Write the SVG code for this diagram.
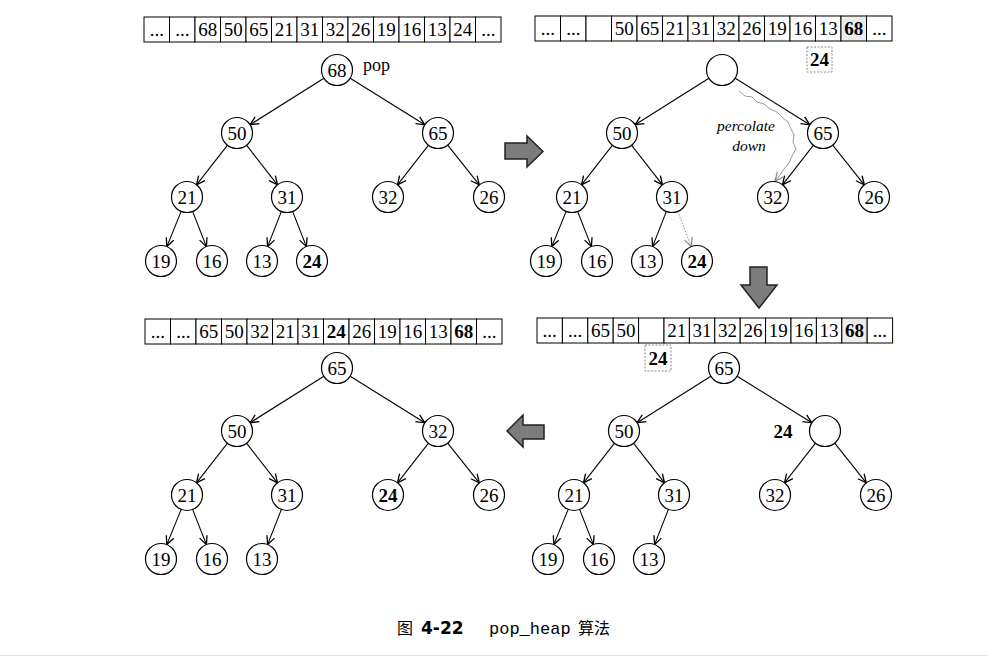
<svg xmlns="http://www.w3.org/2000/svg" width="988" height="662" viewBox="0 0 988 662">
<style>
.n{fill:#fff;stroke:#000;stroke-width:1.2}
.t{font-family:"Liberation Serif","Times New Roman",serif;font-size:19px;text-anchor:middle;fill:#000}
.b{font-weight:bold}
.c{fill:#fff;stroke:#000;stroke-width:1}
.g{fill:#ececec;stroke:#000;stroke-width:1}
.e{fill:none;stroke:#000;stroke-width:1.1;marker-end:url(#ah)}
.d{fill:none;stroke:#888;stroke-width:1;stroke-dasharray:1.5 1.5;marker-end:url(#ahg)}
.pc{fill:none;stroke:#999;stroke-width:1;marker-end:url(#ahg)}
.blk{fill:#7c7c7c;stroke:#222;stroke-width:1.5;stroke-linejoin:miter}
.db{fill:#fff;stroke:#888;stroke-width:1;stroke-dasharray:2 1.5}
.lbl{font-family:"Liberation Serif","Times New Roman",serif;font-size:18px;fill:#000}
.it{font-family:"Liberation Serif","Times New Roman",serif;font-size:15.5px;font-style:italic;text-anchor:middle;fill:#000}
</style>
<defs>
<marker id="ah" viewBox="0 0 10 10" refX="9.5" refY="5" markerWidth="10" markerHeight="10" markerUnits="userSpaceOnUse" orient="auto">
<path d="M1,1 L9.5,5 L1,9" fill="none" stroke="#000" stroke-width="1.3"/>
</marker>
<marker id="ahg" viewBox="0 0 10 10" refX="9.5" refY="5" markerWidth="10" markerHeight="10" markerUnits="userSpaceOnUse" orient="auto">
<path d="M1,1 L9.5,5 L1,9" fill="none" stroke="#888" stroke-width="1.3"/>
</marker>
</defs>
<rect width="988" height="662" fill="#fff"/>
<line x1="0" y1="655.5" x2="988" y2="655.5" stroke="#e2e2e2" stroke-width="1"/>

<!-- arrays -->
<g id="array-tl">
<rect class="c" x="144" y="17" width="25.5" height="25"/><rect class="c" x="169.5" y="17" width="25.5" height="25"/><rect class="c" x="195" y="17" width="25.5" height="25"/><rect class="c" x="220.5" y="17" width="25.5" height="25"/><rect class="c" x="246" y="17" width="25.5" height="25"/><rect class="c" x="271.5" y="17" width="25.5" height="25"/><rect class="c" x="297" y="17" width="25.5" height="25"/><rect class="c" x="322.5" y="17" width="25.5" height="25"/><rect class="c" x="348" y="17" width="25.5" height="25"/><rect class="c" x="373.5" y="17" width="25.5" height="25"/><rect class="c" x="399" y="17" width="25.5" height="25"/><rect class="c" x="424.5" y="17" width="25.5" height="25"/><rect class="c" x="450" y="17" width="25.5" height="25"/><rect class="c" x="475.5" y="17" width="25.5" height="25"/>
<text class="t" y="36"><tspan x="156.8">...</tspan><tspan x="182.3">...</tspan><tspan x="207.8">68</tspan><tspan x="233.3">50</tspan><tspan x="258.8">65</tspan><tspan x="284.3">21</tspan><tspan x="309.8">31</tspan><tspan x="335.3">32</tspan><tspan x="360.8">26</tspan><tspan x="386.3">19</tspan><tspan x="411.8">16</tspan><tspan x="437.3">13</tspan><tspan x="462.8">24</tspan><tspan x="488.3">...</tspan></text>
</g>
<g id="array-tr">
<rect class="c" x="535" y="16" width="25.5" height="25"/><rect class="c" x="560.5" y="16" width="25.5" height="25"/><rect class="c" x="586" y="16" width="25.5" height="25"/><rect class="c" x="611.5" y="16" width="25.5" height="25"/><rect class="c" x="637" y="16" width="25.5" height="25"/><rect class="c" x="662.5" y="16" width="25.5" height="25"/><rect class="c" x="688" y="16" width="25.5" height="25"/><rect class="c" x="713.5" y="16" width="25.5" height="25"/><rect class="c" x="739" y="16" width="25.5" height="25"/><rect class="c" x="764.5" y="16" width="25.5" height="25"/><rect class="c" x="790" y="16" width="25.5" height="25"/><rect class="c" x="815.5" y="16" width="25.5" height="25"/><rect class="g" x="841" y="16" width="25.5" height="25"/><rect class="c" x="866.5" y="16" width="25.5" height="25"/>
<text class="t" y="35"><tspan x="547.8">...</tspan><tspan x="573.3">...</tspan><tspan x="624.3">50</tspan><tspan x="649.8">65</tspan><tspan x="675.3">21</tspan><tspan x="700.8">31</tspan><tspan x="726.3">32</tspan><tspan x="751.8">26</tspan><tspan x="777.3">19</tspan><tspan x="802.8">16</tspan><tspan x="828.3">13</tspan><tspan x="853.8" font-weight="bold">68</tspan><tspan x="879.3">...</tspan></text>
</g>
<g id="tmp-tr">
<rect class="db" x="807" y="47" width="25" height="25"/>
<text class="t b" x="819.5" y="66">24</text>
</g>
<g id="array-bl">
<rect class="c" x="145" y="319" width="25.5" height="25"/><rect class="c" x="170.5" y="319" width="25.5" height="25"/><rect class="c" x="196" y="319" width="25.5" height="25"/><rect class="c" x="221.5" y="319" width="25.5" height="25"/><rect class="c" x="247" y="319" width="25.5" height="25"/><rect class="c" x="272.5" y="319" width="25.5" height="25"/><rect class="c" x="298" y="319" width="25.5" height="25"/><rect class="c" x="323.5" y="319" width="25.5" height="25"/><rect class="c" x="349" y="319" width="25.5" height="25"/><rect class="c" x="374.5" y="319" width="25.5" height="25"/><rect class="c" x="400" y="319" width="25.5" height="25"/><rect class="c" x="425.5" y="319" width="25.5" height="25"/><rect class="c" x="451" y="319" width="25.5" height="25"/><rect class="c" x="476.5" y="319" width="25.5" height="25"/>
<text class="t" y="338"><tspan x="157.8">...</tspan><tspan x="183.3">...</tspan><tspan x="208.8">65</tspan><tspan x="234.3">50</tspan><tspan x="259.8">32</tspan><tspan x="285.3">21</tspan><tspan x="310.8">31</tspan><tspan x="336.3" font-weight="bold">24</tspan><tspan x="361.8">26</tspan><tspan x="387.3">19</tspan><tspan x="412.8">16</tspan><tspan x="438.3">13</tspan><tspan x="463.8" font-weight="bold">68</tspan><tspan x="489.3">...</tspan></text>
</g>
<g id="array-br">
<rect class="c" x="537" y="318" width="25.4" height="25"/><rect class="c" x="562.4" y="318" width="25.4" height="25"/><rect class="c" x="587.8" y="318" width="25.4" height="25"/><rect class="c" x="613.2" y="318" width="25.4" height="25"/><rect class="c" x="638.6" y="318" width="25.4" height="25"/><rect class="c" x="664" y="318" width="25.4" height="25"/><rect class="c" x="689.4" y="318" width="25.4" height="25"/><rect class="c" x="714.8" y="318" width="25.4" height="25"/><rect class="c" x="740.2" y="318" width="25.4" height="25"/><rect class="c" x="765.6" y="318" width="25.4" height="25"/><rect class="c" x="791" y="318" width="25.4" height="25"/><rect class="c" x="816.4" y="318" width="25.4" height="25"/><rect class="g" x="841.8" y="318" width="25.4" height="25"/><rect class="c" x="867.2" y="318" width="25.4" height="25"/>
<text class="t" y="337"><tspan x="549.7">...</tspan><tspan x="575.1">...</tspan><tspan x="600.5">65</tspan><tspan x="625.9">50</tspan><tspan x="676.7">21</tspan><tspan x="702.1">31</tspan><tspan x="727.5">32</tspan><tspan x="752.9">26</tspan><tspan x="778.3">19</tspan><tspan x="803.7">16</tspan><tspan x="829.1">13</tspan><tspan x="854.5" font-weight="bold">68</tspan><tspan x="879.9">...</tspan></text>
</g>
<g id="tmp-br">
<rect class="db" x="645" y="345" width="26" height="26"/>
<text class="t b" x="658" y="364.5">24</text>
</g>

<!-- connectors -->
<g id="connectors">
<g id="edges-tl">
<path class="e" d="M323.9,78.3 L250.1,124.7"/><path class="e" d="M350.2,78.2 L424.8,124.8"/>
<path class="e" d="M227.5,145.2 L196.5,184.8"/><path class="e" d="M246.5,145.2 L277.5,184.8"/>
<path class="e" d="M428.5,145.2 L397.5,184.8"/><path class="e" d="M447.7,145.1 L479.3,184.9"/>
<path class="e" d="M181.2,211.4 L166.8,246.6"/><path class="e" d="M192.6,211.4 L206.4,246.6"/>
<path class="e" d="M281.4,211.4 L267.6,246.6"/><path class="e" d="M292.6,211.4 L306.4,246.6"/>
</g>
<g id="edges-tr" transform="translate(385,0)">
<path class="e" d="M323.9,78.3 L250.1,124.7"/><path class="e" d="M350.2,78.2 L424.8,124.8"/>
<path class="e" d="M227.5,145.2 L196.5,184.8"/><path class="e" d="M246.5,145.2 L277.5,184.8"/>
<path class="e" d="M428.5,145.2 L397.5,184.8"/><path class="e" d="M447.7,145.1 L479.3,184.9"/>
<path class="e" d="M181.2,211.4 L166.8,246.6"/><path class="e" d="M192.6,211.4 L206.4,246.6"/>
<path class="e" d="M281.4,211.4 L267.6,246.6"/><path class="d" d="M292.6,211.4 L306.4,246.6"/>
</g>
<path id="percolate-path" class="pc" d="M739,91 L745,96 L752,97 L757,102 L764,104 L770,109 L777,112 L783,118 L788,122 L791,129 L794,135 L793,142 L796,149 L792,156 L789,163 L784,169 L780,175 L775,181"/>
<g id="edges-bl" transform="translate(0,298)">
<path class="e" d="M323.9,78.3 L250.1,124.7"/><path class="e" d="M350.2,78.2 L424.8,124.8"/>
<path class="e" d="M227.5,145.2 L196.5,184.8"/><path class="e" d="M246.5,145.2 L277.5,184.8"/>
<path class="e" d="M428.5,145.2 L397.5,184.8"/><path class="e" d="M447.7,145.1 L479.3,184.9"/>
<path class="e" d="M181.2,211.4 L166.8,246.6"/><path class="e" d="M192.6,211.4 L206.4,246.6"/>
<path class="e" d="M281.4,211.4 L267.6,246.6"/>
</g>
<g id="edges-br" transform="translate(387,298)">
<path class="e" d="M323.9,78.3 L250.1,124.7"/><path class="e" d="M350.2,78.2 L424.8,124.8"/>
<path class="e" d="M227.5,145.2 L196.5,184.8"/><path class="e" d="M246.5,145.2 L277.5,184.8"/>
<path class="e" d="M428.5,145.2 L397.5,184.8"/><path class="e" d="M447.7,145.1 L479.3,184.9"/>
<path class="e" d="M181.2,211.4 L166.8,246.6"/><path class="e" d="M192.6,211.4 L206.4,246.6"/>
<path class="e" d="M281.4,211.4 L267.6,246.6"/>
</g>
</g>

<!-- nodes top-left -->
<g id="tl-68"><circle class="n" cx="337" cy="70" r="15.5"/><text class="t" x="337" y="76.5">68</text></g>
<g id="tl-50"><circle class="n" cx="237" cy="133" r="15.5"/><text class="t" x="237" y="139.5">50</text></g>
<g id="tl-65"><circle class="n" cx="438" cy="133" r="15.5"/><text class="t" x="438" y="139.5">65</text></g>
<g id="tl-21"><circle class="n" cx="187" cy="197" r="15.5"/><text class="t" x="187" y="203.5">21</text></g>
<g id="tl-31"><circle class="n" cx="287" cy="197" r="15.5"/><text class="t" x="287" y="203.5">31</text></g>
<g id="tl-32"><circle class="n" cx="388" cy="197" r="15.5"/><text class="t" x="388" y="203.5">32</text></g>
<g id="tl-26"><circle class="n" cx="489" cy="197" r="15.5"/><text class="t" x="489" y="203.5">26</text></g>
<g id="tl-19"><circle class="n" cx="161" cy="261" r="15.5"/><text class="t" x="161" y="267.5">19</text></g>
<g id="tl-16"><circle class="n" cx="212" cy="261" r="15.5"/><text class="t" x="212" y="267.5">16</text></g>
<g id="tl-13"><circle class="n" cx="262" cy="261" r="15.5"/><text class="t" x="262" y="267.5">13</text></g>
<g id="tl-24"><circle class="n" cx="312" cy="261" r="15.5"/><text class="t b" x="312" y="267.5">24</text></g>
<text id="pop-label" class="lbl" x="363" y="71">pop</text>

<!-- nodes top-right -->
<g id="tr-root"><circle class="n" cx="722" cy="70" r="15.5"/></g>
<g id="tr-50"><circle class="n" cx="622" cy="133" r="15.5"/><text class="t" x="622" y="139.5">50</text></g>
<g id="tr-65"><circle class="n" cx="823" cy="133" r="15.5"/><text class="t" x="823" y="139.5">65</text></g>
<g id="tr-21"><circle class="n" cx="572" cy="197" r="15.5"/><text class="t" x="572" y="203.5">21</text></g>
<g id="tr-31"><circle class="n" cx="672" cy="197" r="15.5"/><text class="t" x="672" y="203.5">31</text></g>
<g id="tr-32"><circle class="n" cx="773" cy="197" r="15.5"/><text class="t" x="773" y="203.5">32</text></g>
<g id="tr-26"><circle class="n" cx="874" cy="197" r="15.5"/><text class="t" x="874" y="203.5">26</text></g>
<g id="tr-19"><circle class="n" cx="546" cy="261" r="15.5"/><text class="t" x="546" y="267.5">19</text></g>
<g id="tr-16"><circle class="n" cx="597" cy="261" r="15.5"/><text class="t" x="597" y="267.5">16</text></g>
<g id="tr-13"><circle class="n" cx="647" cy="261" r="15.5"/><text class="t" x="647" y="267.5">13</text></g>
<g id="tr-24"><circle class="n" cx="697" cy="261" r="15.5"/><text class="t b" x="697" y="267.5">24</text></g>
<g id="percolate-label">
<text class="it" x="746" y="131">percolate</text>
<text class="it" x="749" y="150.5">down</text>
</g>

<!-- nodes bottom-left -->
<g id="bl-65"><circle class="n" cx="337" cy="368" r="15.5"/><text class="t" x="337" y="374.5">65</text></g>
<g id="bl-50"><circle class="n" cx="237" cy="431" r="15.5"/><text class="t" x="237" y="437.5">50</text></g>
<g id="bl-32"><circle class="n" cx="438" cy="431" r="15.5"/><text class="t" x="438" y="437.5">32</text></g>
<g id="bl-21"><circle class="n" cx="187" cy="495" r="15.5"/><text class="t" x="187" y="501.5">21</text></g>
<g id="bl-31"><circle class="n" cx="287" cy="495" r="15.5"/><text class="t" x="287" y="501.5">31</text></g>
<g id="bl-24"><circle class="n" cx="388" cy="495" r="15.5"/><text class="t b" x="388" y="501.5">24</text></g>
<g id="bl-26"><circle class="n" cx="489" cy="495" r="15.5"/><text class="t" x="489" y="501.5">26</text></g>
<g id="bl-19"><circle class="n" cx="161" cy="559" r="15.5"/><text class="t" x="161" y="565.5">19</text></g>
<g id="bl-16"><circle class="n" cx="212" cy="559" r="15.5"/><text class="t" x="212" y="565.5">16</text></g>
<g id="bl-13"><circle class="n" cx="262" cy="559" r="15.5"/><text class="t" x="262" y="565.5">13</text></g>

<!-- nodes bottom-right -->
<g id="br-65"><circle class="n" cx="724" cy="368" r="15.5"/><text class="t" x="724" y="374.5">65</text></g>
<g id="br-50"><circle class="n" cx="624" cy="431" r="15.5"/><text class="t" x="624" y="437.5">50</text></g>
<g id="br-hole"><circle class="n" cx="825" cy="431" r="15.5"/></g>
<g id="br-21"><circle class="n" cx="574" cy="495" r="15.5"/><text class="t" x="574" y="501.5">21</text></g>
<g id="br-31"><circle class="n" cx="674" cy="495" r="15.5"/><text class="t" x="674" y="501.5">31</text></g>
<g id="br-32"><circle class="n" cx="775" cy="495" r="15.5"/><text class="t" x="775" y="501.5">32</text></g>
<g id="br-26"><circle class="n" cx="876" cy="495" r="15.5"/><text class="t" x="876" y="501.5">26</text></g>
<g id="br-19"><circle class="n" cx="548" cy="559" r="15.5"/><text class="t" x="548" y="565.5">19</text></g>
<g id="br-16"><circle class="n" cx="599" cy="559" r="15.5"/><text class="t" x="599" y="565.5">16</text></g>
<g id="br-13"><circle class="n" cx="649" cy="559" r="15.5"/><text class="t" x="649" y="565.5">13</text></g>
<text id="br-24-label" class="t b" x="783" y="437.5">24</text>

<!-- block arrows -->
<g id="arrow-right"><polygon class="blk" points="505,143 527,143 527,136 543,151.5 527,167 527,159 505,159"/></g>
<g id="arrow-down"><polygon class="blk" points="750,267 767,267 767,285 777,285 759,308 741,285 750,285"/></g>
<g id="arrow-left"><polygon class="blk" points="544,425 523,425 523,415 507,431 523,447 523,439 544,439"/></g>

<!-- caption -->
<g id="caption">
<text x="397" y="634" font-family="'Noto Sans CJK SC',sans-serif" font-size="16">图</text>
<text x="421" y="634" font-family="'DejaVu Sans',sans-serif" font-weight="bold" font-size="17">4-22</text>
<text x="489" y="634" font-family="'Liberation Mono','Courier New',monospace" font-size="17">pop_heap</text>
<text x="578" y="634" font-family="'Noto Sans CJK SC',sans-serif" font-size="16">算法</text>
</g>
</svg>
